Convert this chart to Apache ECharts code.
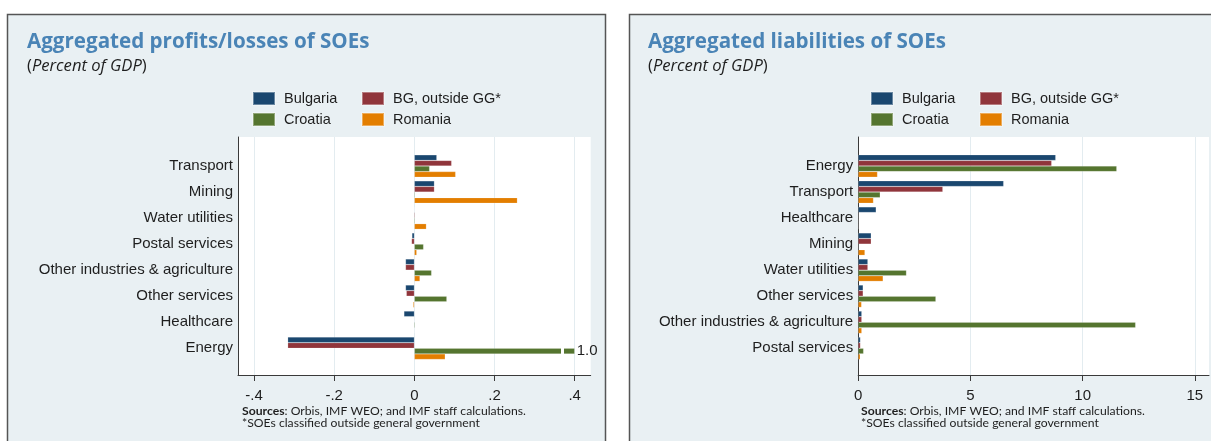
<!DOCTYPE html>
<html><head><meta charset="utf-8">
<script src="https://cdn.jsdelivr.net/npm/echarts@6/dist/echarts.min.js"></script>
<style>html,body{margin:0;padding:0;background:#fff}#c{width:1211px;height:441px}</style>
</head><body><div id="c"></div><script>
// ---------- data ----------
const seriesNames = ['Bulgaria', 'BG, outside GG*', 'Croatia', 'Romania'];
const seriesColors = ['#1a476f', '#90353b', '#55752f', '#e37e00'];

const profitCategories = ['Transport', 'Mining', 'Water utilities', 'Postal services', 'Other industries & agriculture', 'Other services', 'Healthcare', 'Energy'];
const profitBulgaria  = [0.056, 0.050, 0.001, -0.006, -0.022, -0.022, -0.026, -0.316];
const profitBGoutside = [0.093, 0.050, 0.002, -0.007, -0.022, -0.020, 0.000, -0.316];
const profitCroatia   = [0.038, 0.002, 0.002, 0.023, 0.043, 0.081, 0.002, 1.0];
const profitRomania   = [0.103, 0.257, 0.030, 0.006, 0.014, -0.003, 0.001, 0.077];
const profitTicks = [-0.4, -0.2, 0, 0.2, 0.4];
const profitTickLabels = ['-.4', '-.2', '0', '.2', '.4'];

const liabCategories = ['Energy', 'Transport', 'Healthcare', 'Mining', 'Water utilities', 'Other services', 'Other industries & agriculture', 'Postal services'];
const liabBulgaria  = [8.80, 6.48, 0.80, 0.58, 0.43, 0.22, 0.16, 0.10];
const liabBGoutside = [8.62, 3.77, 0.00, 0.58, 0.43, 0.22, 0.16, 0.10];
const liabCroatia   = [11.52, 0.98, 0.00, 0.00, 2.15, 3.46, 12.36, 0.24];
const liabRomania   = [0.86, 0.68, 0.00, 0.30, 1.11, 0.15, 0.16, 0.09];
const liabTicks = [0, 5, 10, 15];
const liabTickLabels = ['0', '5', '10', '15'];

// ---------- styling / layout ----------
const FONT = 'Liberation Sans, Arial, sans-serif';
const TITLE_FONT = 'Open Sans, sans-serif';
const NOTE_FONT = 'Lato, sans-serif';
const TXT = '#1e1e1e';
const AXIS = '#3a3a3a';
const GRIDLINE = '#e3ecf0';
const PANEL_BG = '#e9f0f3';
const TITLE_COLOR = '#4a84b6';

const profitCap = 0.4;      // axis break: values beyond are drawn to the cap
const profitBreakAt = 0.372;

const panels = [
  { frame: { left: 238, width: 352.7, top: 137, height: 238 }, bars: { top: 153, height: 208.3 },
    min: -0.44, max: 0.44, ticks: profitTicks, labels: profitTickLabels,
    cats: profitCategories, data: [profitBulgaria, profitBGoutside, profitCroatia, profitRomania],
    title: 'Aggregated profits/losses of SOEs', tx: 27, legendX: [252, 361], noteX: 242, cap: profitCap },
  { frame: { left: 858.2, width: 350.8, top: 137, height: 238 }, bars: { top: 153, height: 208.3 },
    min: 0, max: 15.63, ticks: liabTicks, labels: liabTickLabels,
    cats: liabCategories, data: [liabBulgaria, liabBGoutside, liabCroatia, liabRomania],
    title: 'Aggregated liabilities of SOEs', tx: 648, legendX: [870, 979], noteX: 861, cap: null }
];

const grid = [], xAxis = [], yAxis = [], series = [], legend = [], title = [], graphic = [];

panels.forEach((p, pi) => {
  const gFrame = grid.length;
  grid.push({ left: p.frame.left, top: p.frame.top, width: p.frame.width, height: p.frame.height,
              show: true, backgroundColor: '#ffffff', borderWidth: 0 });
  const gBars = grid.length;
  grid.push({ left: p.frame.left, top: p.bars.top, width: p.frame.width, height: p.bars.height });

  const tickLabel = v => {
    const i = p.ticks.findIndex(t => Math.abs(t - v) < 1e-9);
    return i >= 0 ? p.labels[i] : '';
  };
  // frame axes (axis lines, ticks, labels, gridlines)
  xAxis.push({ type: 'value', gridIndex: gFrame, min: p.min, max: p.max,
    axisLine: { show: true, onZero: false, lineStyle: { color: AXIS, width: 1 } },
    axisTick: { show: true, length: 6, customValues: p.ticks, lineStyle: { color: AXIS } },
    axisLabel: { customValues: p.ticks, formatter: tickLabel, fontSize: 15, fontFamily: FONT, color: TXT, margin: 13 },
    splitLine: { show: true, lineStyle: { color: GRIDLINE, width: 1 } } });
  yAxis.push({ type: 'value', gridIndex: gFrame, min: 0, max: 1,
    axisLine: { show: true, onZero: false, lineStyle: { color: AXIS, width: 1 } },
    axisTick: { show: false }, axisLabel: { show: false }, splitLine: { show: false } });
  // bar axes
  const xb = xAxis.length;
  xAxis.push({ type: 'value', gridIndex: gBars, min: p.min, max: p.max, show: false, splitLine: { show: false } });
  const yb = yAxis.length;
  yAxis.push({ type: 'category', gridIndex: gBars, data: p.cats, inverse: true,
    axisLine: { show: false, onZero: false }, axisTick: { show: false },
    axisLabel: { fontSize: 15, fontFamily: FONT, color: TXT, margin: 5 } });

  p.data.forEach((vals, si) => {
    const s = {
      type: 'bar', name: seriesNames[si], xAxisIndex: xb, yAxisIndex: yb,
      barGap: '0%', barCategoryGap: '14%',
      itemStyle: { color: seriesColors[si], borderColor: 'rgba(255,255,255,0.35)', borderWidth: 0.5 },
      data: vals.map(v => {
        if (p.cap !== null && v > p.cap) {
          return { value: p.cap, label: { show: true, position: 'right', distance: 2,
                   formatter: v.toFixed(1), fontSize: 15, fontFamily: FONT, color: TXT } };
        }
        return v;
      })
    };
    if (p.cap !== null && vals.some(v => v > p.cap)) {
      s.markLine = { silent: true, symbol: 'none', label: { show: false },
        lineStyle: { color: '#ffffff', width: 3, type: 'solid' },
        data: [{ xAxis: profitBreakAt }] };
    }
    series.push(s);
  });

  const lgBase = { orient: 'vertical', top: 91, itemWidth: 22, itemHeight: 13, itemGap: 6, icon: 'rect',
    selectedMode: false, padding: 0,
    textStyle: { fontSize: 14.5, fontFamily: FONT, color: TXT, padding: [0, 0, 0, 4] } };
  legend.push(Object.assign({}, lgBase, { left: p.legendX[0], data: [seriesNames[0], seriesNames[2]] }));
  legend.push(Object.assign({}, lgBase, { left: p.legendX[1], data: [seriesNames[1], seriesNames[3]] }));

  title.push({ text: p.title, left: p.tx, top: 32, padding: 0,
    textStyle: { fontFamily: TITLE_FONT, fontWeight: 'bold', fontSize: 20.6, color: TITLE_COLOR } });
  title.push({ text: '{n|(}{i|Percent of GDP}{n|)}', left: p.tx, top: 58, padding: 0,
    textStyle: { fontWeight: 'normal', fontSize: 16.6, fontFamily: TITLE_FONT,
      rich: { n: { fontFamily: TITLE_FONT, fontSize: 16.6, fontWeight: 'normal', color: TXT },
              i: { fontFamily: TITLE_FONT, fontSize: 16.6, fontWeight: 'normal', fontStyle: 'italic', color: TXT } } } });
  title.push({ text: '{b|Sources}{n|: Orbis, IMF WEO; and IMF staff calculations.}\n{n|*SOEs classified outside general government}',
    left: p.noteX, top: 405.5, padding: 0,
    textStyle: { fontWeight: 'normal', fontSize: 12, fontFamily: NOTE_FONT,
      rich: { b: { fontFamily: NOTE_FONT, fontSize: 12.2, fontWeight: 'bold', color: TXT, lineHeight: 12 },
              n: { fontFamily: NOTE_FONT, fontSize: 12.2, fontWeight: 'normal', color: TXT, lineHeight: 12 } } } });

  graphic.push({ type: 'rect', z: -100, silent: true,
    shape: { x: pi === 0 ? 7.5 : 629.5, y: 14.5, width: 598, height: 460 },
    style: { fill: PANEL_BG, stroke: '#555555', lineWidth: 1.5 } });
});

const chart = echarts.init(document.getElementById('c'), null, { renderer: 'canvas' });
chart.setOption({ animation: false, backgroundColor: '#ffffff', color: seriesColors,
  grid, xAxis, yAxis, series, legend, title, graphic });
</script></body></html>
